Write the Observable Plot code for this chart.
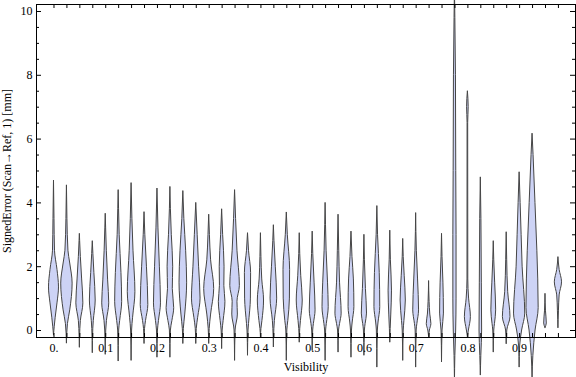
<!DOCTYPE html>
<html><head><meta charset="utf-8">
<script src="https://cdn.jsdelivr.net/npm/d3@7"></script>
<script src="https://cdn.jsdelivr.net/npm/@observablehq/plot@0.6"></script>
<style>
body{margin:0;background:#fff}
#chart{width:576px;height:377px}
</style>
</head><body><div id="chart"></div>
<script>
// Violin categories (visibility)
const visibility = [0, 0.025, 0.05, 0.075, 0.1, 0.125, 0.15, 0.175, 0.2, 0.225,
  0.25, 0.275, 0.3, 0.325, 0.35, 0.375, 0.4, 0.425, 0.45, 0.475,
  0.5, 0.525, 0.55, 0.575, 0.6, 0.625, 0.65, 0.675, 0.7, 0.725,
  0.75, 0.775, 0.8, 0.825, 0.85, 0.875, 0.9, 0.925, 0.95, 0.975];
// Minimum and maximum signed error (mm) of each violin
const minErr = [-0.15, -0.4, -0.53, -0.7, -0.75, -0.96, -0.94, -0.41, -0.84, -0.84,
  -0.41, -0.41, -0.41, -0.57, -0.94, -0.78, -0.2, -0.52, -0.94, -0.37,
  -0.63, -0.94, -0.68, -0.84, -0.78, -1.15, -0.37, -0.94, -1.15, -0.2,
  -0.99, -1.6, -0.2, -1.4, -0.68, -0.42, -1.15, -1.46, 0.08, 0.08];
const maxErr = [4.7, 4.55, 3.03, 2.8, 3.66, 4.4, 4.62, 3.71, 4.45, 4.5,
  4.37, 4.0, 3.63, 3.8, 4.4, 3.05, 3.05, 3.3, 3.7, 3.05,
  3.1, 4.0, 3.63, 3.1, 3.0, 3.9, 3.13, 2.87, 3.68, 1.55,
  3.03, 10.7, 7.5, 4.8, 2.8, 3.08, 4.96, 6.17, 1.15, 2.3];
// Density profile knots: [signed error, relative density]
const densityKnots = [
  [[0.1,0.7],[0.4,1.7],[0.85,3.5],[1.35,5.0],[1.9,3.5],[2.5,1.0],[3.5,0.5]],
  [[0.2,1],[0.63,3.3],[1.47,5.7],[2.1,3.3],[2.5,1.5],[3.5,0.5]],
  [[0.05,0.5],[0.3,1],[0.85,3.5],[1.6,2.3],[2.3,1],[2.8,0.3]],
  [[0.05,0.5],[0.3,1],[0.94,2.9],[1.8,1.6],[2.4,0.6]],
  [[0,0.5],[0.3,1.2],[0.85,3.5],[1.57,2.4],[2.5,1.1],[3.2,0.4]],
  [[0,0.5],[0.3,1.5],[0.9,3.5],[1.8,2.8],[3,1],[3.8,0.4]],
  [[0,0.5],[0.4,1.5],[1.2,3.8],[2.5,1.9],[3.5,0.8]],
  [[0.05,0.5],[0.3,1.5],[0.8,3.8],[2,2.4],[3,0.8]],
  [[0,0.5],[0.3,1.5],[0.85,3.5],[2,2.4],[3.2,1]],
  [[0,0.5],[0.3,2],[0.7,3.8],[1.3,2.4],[2,2.8],[3,1.4],[3.8,0.5]],
  [[0.05,0.5],[0.5,1.9],[1.5,3.8],[2.5,2.8],[3.5,1]],
  [[0.05,0.5],[0.4,1.9],[1.0,4.3],[2,2.8],[3,1.4]],
  [[0.05,0.5],[0.5,1.9],[1.3,5.0],[2.2,1.9],[3,0.7]],
  [[0,0.5],[0.3,1.5],[0.9,3.3],[1.4,2.2],[2,2.4],[3,1]],
  [[0,0.5],[0.5,2.8],[0.9,2.4],[1.4,4.8],[2.5,2.4],[3.5,1]],
  [[0,0.5],[0.2,1],[1,2.9],[1.8,3.1],[2.5,1]],
  [[0.05,0.5],[0.3,1.5],[0.94,3.1],[1.6,1.3],[2.3,0.5]],
  [[0.05,0.5],[0.3,1],[1.0,3.3],[2,1.9],[2.8,0.6]],
  [[0,0.5],[0.3,1.5],[1,3.1],[1.9,3.3],[3,1]],
  [[0.05,0.5],[0.3,1.2],[0.94,3.0],[1.7,1.5],[2.4,0.5]],
  [[0,0.5],[0.2,1.2],[0.63,2.9],[1.5,1.9],[2.4,0.6]],
  [[0,0.5],[0.2,1.2],[0.73,3.1],[1.5,2.4],[2.5,1],[3.3,0.4]],
  [[0,0.5],[0.2,1.5],[0.53,3.1],[1.5,1.5],[2.5,0.7]],
  [[0,0.5],[0.25,1.2],[0.73,2.9],[1.6,2.4],[2.3,1]],
  [[0,0.5],[0.2,1.2],[0.53,2.6],[1.3,1.5],[2.2,0.5]],
  [[0,0.5],[0.25,1.2],[0.73,2.9],[1.8,2.4],[3,0.7]],
  [[0.05,0.4],[0.5,1],[1.25,1.7],[2.2,0.6]],
  [[0,0.5],[0.3,1.2],[0.94,2.6],[1.7,1.5],[2.3,0.5]],
  [[0,0.5],[0.2,1.2],[0.63,2.9],[1.6,1.9],[2.5,0.7]],
  [[0.0,0.8],[0.2,2.3],[0.5,1.2],[0.9,0.5]],
  [[0,0.5],[0.53,1.9],[1.5,1.4],[2.3,0.5]],
  [[-0.8,0.4],[0,1.2],[1,1.6],[3,1.6],[5,1.3],[8,1.0],[9.8,0.4]],
  [[0.0,1],[0.42,3],[1.0,1.2],[1.6,0.4],[6.5,0.3],[7.0,0.8]],
  [[-0.8,0.5],[0,1.3],[1.5,1.0],[3.5,0.6]],
  [[0,0.5],[0.2,1.2],[0.63,2.4],[1.5,1.4],[2.2,0.5]],
  [[0,0.6],[0.42,3.8],[1.2,1.5],[2.2,0.5]],
  [[-0.5,0.5],[0,2.5],[0.53,5.6],[2,3],[3,2],[4,1]],
  [[-0.8,0.8],[0,3],[0.7,6.1],[2.5,4.8],[4,2.9],[5.5,1]],
  [[0.22,1.3],[0.6,0.5]],
  [[0.6,0.5],[1.1,1.2],[1.51,3.6],[1.9,1.2]]
];
// Axis ticks
const yMajorTicks = [0, 2, 4, 6, 8, 10];
const yMinorTicks = [0.5, 1, 1.5, 2.5, 3, 3.5, 4.5, 5, 5.5, 6.5, 7, 7.5, 8.5, 9, 9.5];
const xTickValues = [0, 0.1, 0.2, 0.3, 0.4, 0.5, 0.6, 0.7, 0.8, 0.9];
const xTickLabels = ["0.", "0.1", "0.2", "0.3", "0.4", "0.5", "0.6", "0.7", "0.8", "0.9"];

const xDomain = [-0.0338, 1.008];
const yDomain = [-0.2194, 10.219];
const densityToX = 1 / 517.4;

const rows = [];
visibility.forEach((pos, i) => {
  rows.push({pos, v: minErr[i], d: 0});
  for (const [v, d] of densityKnots[i]) rows.push({pos, v, d});
  rows.push({pos, v: maxErr[i], d: 0});
});

const font = "'Liberation Serif', 'Times New Roman', serif";
const chart = Plot.plot({
  width: 576, height: 377,
  marginLeft: 36, marginRight: 1, marginTop: 4, marginBottom: 40,
  style: {fontFamily: font, fontSize: "12px", background: "#fff", color: "#000"},
  x: {domain: xDomain},
  y: {domain: yDomain},
  marks: [
    Plot.areaX(rows, {
      y: "v",
      x1: r => r.pos - r.d * densityToX,
      x2: r => r.pos + r.d * densityToX,
      z: "pos", curve: "monotone-y",
      fill: "#cdd3f5", stroke: "#454545", strokeWidth: 1
    }),
    Plot.frame({stroke: "#000"}),
    Plot.ruleY(yMajorTicks, {y: d => d, x1: xDomain[0], x2: xDomain[0], insetRight: -5, stroke: "#000"}),
    Plot.ruleY(yMinorTicks, {y: d => d, x1: xDomain[0], x2: xDomain[0], insetRight: -3, stroke: "#000"}),
    Plot.ruleY(yMajorTicks, {y: d => d, x1: xDomain[1], x2: xDomain[1], insetLeft: -5, stroke: "#000"}),
    Plot.ruleY(yMinorTicks, {y: d => d, x1: xDomain[1], x2: xDomain[1], insetLeft: -3, stroke: "#000"}),
    Plot.ruleX(visibility, {x: d => d, y1: yDomain[1], y2: yDomain[1], insetBottom: -4, stroke: "#000"}),
    Plot.ruleX(visibility, {x: d => d, y1: yDomain[0], y2: yDomain[0], insetTop: -4, stroke: "#000"}),
    Plot.axisY({ticks: yMajorTicks, tickSize: 0, tickPadding: 4, tickFormat: d => String(d),
      label: "SignedError (Scan\u2192Ref, 1) [mm]", labelAnchor: "center", labelOffset: 34, labelArrow: "none"}),
    Plot.axisX({ticks: xTickValues, tickSize: 0, tickPadding: 6,
      tickFormat: d => xTickLabels[xTickValues.indexOf(d)],
      label: "Visibility", labelAnchor: "center", labelOffset: 33, labelArrow: "none"})
  ]
});
document.getElementById("chart").appendChild(chart);
</script>
</body></html>
